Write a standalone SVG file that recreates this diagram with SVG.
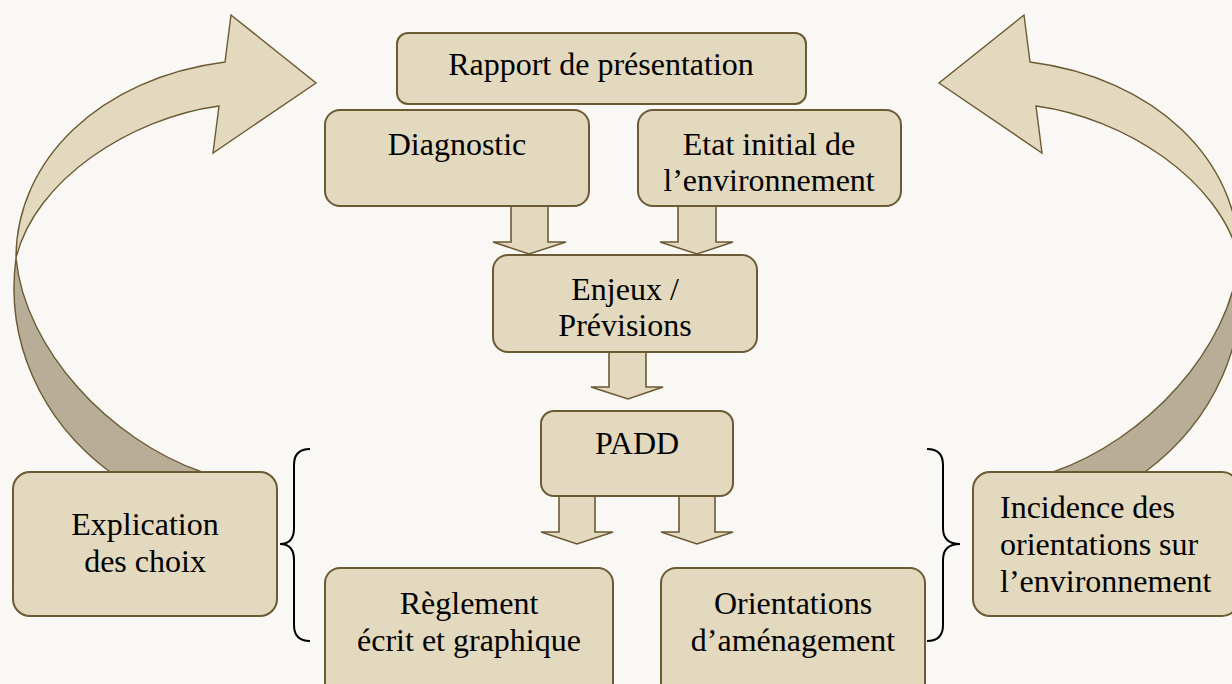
<svg xmlns="http://www.w3.org/2000/svg" width="1232" height="684" viewBox="0 0 1232 684">
<style>
.box{fill:#e3d9be;stroke:#6b5a33;stroke-width:2}
.arr{fill:#e3d9be;stroke:#6b5a33;stroke-width:1.6;stroke-linejoin:miter}
.rib{fill:#e3d9be;stroke:#6b5a33;stroke-width:1.4}
.ribd{fill:#b8ae97;stroke:#6b5a33;stroke-width:1.4}
.br{fill:none;stroke:#000;stroke-width:2}
.t{font-family:'Liberation Serif','Times New Roman',serif;font-size:32px;fill:#000}
.c{text-anchor:middle}
</style>
<defs>
<g id="curved-arrow">
<path class="ribd" d="M16,258 C5,340 40,420 110,472 L202,472 C110,440 25,350 16,258 Z"/>
<path class="rib" d="M225,62 L231,15 L316,83 L213,153 L219,106 C130,118 35,180 16,258 C16,160 100,78 225,62 Z"/>
</g>
</defs>
<rect width="1232" height="684" fill="#f9f8f4"/>
<g id="connectors">
<use href="#curved-arrow"/>
<use href="#curved-arrow" transform="translate(1255,0) scale(-1,1)"/>
<path class="arr" d="M511,206 L548,206 L548,242 L566,242 L529,254 L493,242 L511,242 Z"/>
<path class="arr" d="M678,206 L716,206 L716,242 L733,242 L697,254 L660,242 L678,242 Z"/>
<path class="arr" d="M609,352 L646,352 L646,387 L663,387 L628,399 L591,387 L609,387 Z"/>
<path class="arr" d="M559,496 L595,496 L595,532 L613,532 L577,544 L541,532 L559,532 Z"/>
<path class="arr" d="M679,496 L715,496 L715,532 L733,532 L697,544 L661,532 L679,532 Z"/>
<path class="br" d="M310,449 Q294,449 294,465 L294,528 Q294,544 280,544 Q294,544 294,560 L294,625 Q294,641 310,641"/>
<path class="br" d="M927,449 Q943,449 943,465 L943,528 Q943,544 960,544 Q943,544 943,560 L943,625 Q943,641 927,641"/>
</g>
<g font-family="'Liberation Serif', 'Times New Roman', serif" font-size="32">
<g id="rapport"><rect class="box" x="397" y="33" width="409" height="71" rx="11"/><text class="t c" x="601" y="75">Rapport de présentation</text></g>
<g id="diagnostic"><rect class="box" x="325" y="110" width="264" height="96" rx="15"/><text class="t c" x="457" y="155">Diagnostic</text></g>
<g id="etat"><rect class="box" x="638" y="110" width="263" height="96" rx="15"/><text class="t c" x="769" y="155">Etat initial de</text><text class="t c" x="769" y="191">l’environnement</text></g>
<g id="enjeux"><rect class="box" x="493" y="255" width="264" height="97" rx="15"/><text class="t c" x="625" y="300">Enjeux /</text><text class="t c" x="625" y="336">Prévisions</text></g>
<g id="padd"><rect class="box" x="541" y="411" width="192" height="85" rx="13"/><text class="t c" x="637" y="454">PADD</text></g>
<g id="reglement"><rect class="box" x="325" y="568" width="288" height="130" rx="15"/><text class="t c" x="469" y="614">Règlement</text><text class="t c" x="469" y="651">écrit et graphique</text></g>
<g id="orientations"><rect class="box" x="661" y="568" width="264" height="130" rx="15"/><text class="t c" x="793" y="614">Orientations</text><text class="t c" x="793" y="651">d’aménagement</text></g>
<g id="explication"><rect class="box" x="13" y="472" width="264" height="144" rx="17"/><text class="t c" x="145" y="535">Explication</text><text class="t c" x="145" y="572">des choix</text></g>
<g id="incidence"><rect class="box" x="973" y="472" width="266" height="144" rx="17"/><text class="t" x="1000" y="518">Incidence des</text><text class="t" x="1000" y="555">orientations sur</text><text class="t" x="1000" y="592">l’environnement</text></g>
</g>
</svg>
